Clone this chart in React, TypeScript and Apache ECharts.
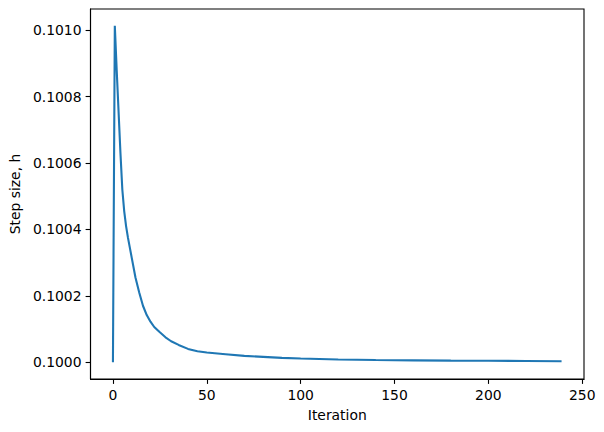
import React, { useEffect, useRef } from "react";
import * as echarts from "echarts";

// Iterations (x) and step size values (y)
const iterations: number[] = [
  0, 1, 2, 3, 4, 5, 6, 7, 8, 9, 10, 12, 14, 16, 18, 20, 22, 25, 28, 31, 35, 40,
  45, 50, 60, 70, 80, 90, 100, 120, 140, 160, 180, 200, 220, 239,
];
const stepSizes: number[] = [
  0.1, 0.101013, 0.10088, 0.100755, 0.10063, 0.10052, 0.100455, 0.10041,
  0.100375, 0.100345, 0.100315, 0.100255, 0.10021, 0.10017, 0.100142,
  0.100122, 0.100106, 0.10009, 0.100075, 0.100063, 0.100052, 0.10004,
  0.100033, 0.100029, 0.100024, 0.100019, 0.100016, 0.100013, 0.100011,
  0.100008, 0.1000065, 0.1000055, 0.1000048, 0.1000042, 0.1000036, 0.100003,
];

const xTicks: number[] = [0, 50, 100, 150, 200, 250];
const yTicks: number[] = [0.1, 0.1002, 0.1004, 0.1006, 0.1008, 0.101];

const xTitle = "Iteration";
const yTitle = "Step size, h";

export default function App() {
  const ref = useRef<HTMLDivElement>(null);
  useEffect(() => {
    if (!ref.current) return;
    const chart = echarts.init(ref.current, null, { renderer: "svg" });
    const xs = iterations;
    const ys = stepSizes;
    const xMinD = Math.min(...xs);
    const xMaxD = Math.max(...xs);
    const yMinD = Math.min(...ys);
    const yMaxD = Math.max(...ys);
    const xm = (xMaxD - xMinD) * 0.05;
    const ym = (yMaxD - yMinD) * 0.05;
    const font = "DejaVu Sans";
    const fs = 13.9;
    chart.setOption({
      animation: false,
      backgroundColor: "#ffffff",
      textStyle: { fontFamily: font },
      grid: {
        left: 88,
        right: 20,
        top: 9,
        bottom: 53,
        show: true,
        borderColor: "#000",
        borderWidth: 1.1,
        containLabel: false,
      },
      xAxis: {
        type: "value",
        min: xMinD - xm,
        max: xMaxD + xm,
        name: xTitle,
        nameLocation: "middle",
        nameGap: 29,
        nameTextStyle: { color: "#000", fontSize: fs, fontFamily: font },
        axisLine: { show: true, onZero: false, lineStyle: { color: "#000", width: 1.1 } },
        axisTick: {
          show: true,
          inside: false,
          length: 4.9,
          lineStyle: { color: "#000", width: 1.1 },
          customValues: xTicks,
        },
        axisLabel: {
          color: "#000",
          fontSize: fs,
          fontFamily: font,
          margin: 9,
          customValues: xTicks,
          formatter: (v: number) => String(Math.round(v)),
        },
        splitLine: { show: false },
      },
      yAxis: {
        type: "value",
        min: yMinD - ym,
        max: yMaxD + ym,
        name: yTitle,
        nameLocation: "middle",
        nameGap: 66,
        nameTextStyle: { color: "#000", fontSize: fs, fontFamily: font },
        axisLine: { show: true, onZero: false, lineStyle: { color: "#000", width: 1.1 } },
        axisTick: {
          show: true,
          inside: false,
          length: 4.9,
          lineStyle: { color: "#000", width: 1.1 },
          customValues: yTicks,
        },
        axisLabel: {
          color: "#000",
          fontSize: fs,
          fontFamily: font,
          margin: 9,
          customValues: yTicks,
          formatter: (v: number) => v.toFixed(4),
        },
        splitLine: { show: false },
      },
      series: [
        {
          type: "line",
          data: xs.map((x, i) => [x, ys[i]]),
          showSymbol: false,
          symbol: "none",
          smooth: false,
          lineStyle: { color: "#1f77b4", width: 2.1 },
          itemStyle: { color: "#1f77b4" },
        },
      ],
    });
    return () => chart.dispose();
  }, []);
  return (
    <div
      ref={ref}
      style={{ position: "fixed", left: 0, top: 0, width: 604, height: 432 }}
    />
  );
}
